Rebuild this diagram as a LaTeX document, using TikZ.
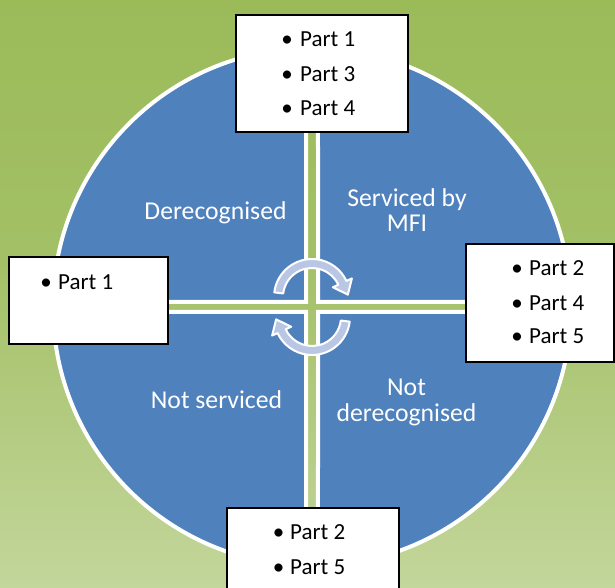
\documentclass[tikz,border=0pt]{standalone}
\usepackage{fontspec}
\setmainfont{Carlito}
\usetikzlibrary{calc}
\definecolor{gtop}{HTML}{9BBB59}
\definecolor{gmid}{HTML}{A3C066}
\definecolor{gbot}{HTML}{C3D69B}
\definecolor{qblue}{HTML}{4F81BD}
\definecolor{arrowblue}{HTML}{B9C7E4}
\begin{document}
\begin{tikzpicture}[x=1pt,y=1pt,
  quad/.style={fill=qblue, draw=white, line width=4pt},
  cyclearrow/.style={fill=arrowblue, draw=white, line width=2pt, line join=round},
  partbox/.style={draw=black, fill=white, line width=1.5pt, inner sep=0pt},
  quadlabel/.style={text=white, font=\fontsize{25.7pt}{26pt}\selectfont, inner sep=0pt, anchor=base},
  parttext/.style={font=\fontsize{23pt}{28pt}\selectfont, inner sep=0pt, anchor=base west},
  partbullet/.style={font=\fontsize{23pt}{28pt}\selectfont, inner sep=0pt, anchor=base},
]
\useasboundingbox (0,0) rectangle (615,588);
% background
\shade[top color=gmid, bottom color=gbot] (0,0) rectangle (615,330.5);
\shade[top color=gtop, bottom color=gmid] (0,330) rectangle (615,588);
% quadrants
\coordinate (C) at (312,281);
\path[quad] (318,286) -- ($(C)+(1.106:259)$) arc[start angle=1.106, end angle=88.673, radius=259] -- cycle;
\path[quad] (306,286) -- ($(C)+(91.327:259)$) arc[start angle=91.327, end angle=178.894, radius=259] -- cycle;
\path[quad] (306,276) -- ($(C)+(181.106:259)$) arc[start angle=181.106, end angle=268.673, radius=259] -- cycle;
\path[quad] (318,276) -- ($(C)+(271.327:259)$) arc[start angle=271.327, end angle=358.894, radius=259] -- cycle;
% cycle arrows
\coordinate (A) at (312,291);
\coordinate (B) at (312,271);
\path[cyclearrow] ($(A)+(173:38)$) arc[start angle=173, end angle=25, radius=38] -- ($(A)+(25:44)$) -- ($(A)+(25:33.5)+(-65:13)$) -- ($(A)+(25:23)$) -- ($(A)+(25:29)$) arc[start angle=25, end angle=173, radius=29] -- cycle;
\path[cyclearrow] ($(B)+(353:38)$) arc[start angle=353, end angle=205, radius=38] -- ($(B)+(205:44)$) -- ($(B)+(205:33.5)+(115:13)$) -- ($(B)+(205:23)$) -- ($(B)+(205:29)$) arc[start angle=205, end angle=353, radius=29] -- cycle;
% quadrant labels
\node[quadlabel] (lderec) at (215.5,368) {Derecognised};
\node[quadlabel] (lserv1) at (407,381) {Serviced by};
\node[quadlabel] (lserv2) at (407,356) {MFI};
\node[quadlabel] (lnots) at (216.5,179) {Not serviced};
\node[quadlabel] (lnotd1) at (406.5,192) {Not};
\node[quadlabel] (lnotd2) at (406.5,166) {derecognised};
% boxes
\node[partbox, minimum width=172pt, minimum height=117pt] (btop) at (322,514.5) {};
\node[partbox, minimum width=159pt, minimum height=87pt] (bleft) at (88.5,287.5) {};
\node[partbox, minimum width=148pt, minimum height=118pt] (bright) at (540,285) {};
\node[partbox, minimum width=172pt, minimum height=92pt] (bbottom) at (313,34) {};
% top box text
\node[partbullet] (tb1) at (287,541) {•};
\node[parttext] (tt1) at (300,541) {Part 1};
\node[partbullet] (tb2) at (287,506) {•};
\node[parttext] (tt2) at (300,506) {Part 3};
\node[partbullet] (tb3) at (287,472) {•};
\node[parttext] (tt3) at (300,472) {Part 4};
% left box text
\node[partbullet] (lb1) at (46,298) {•};
\node[parttext] (lt1) at (58,298) {Part 1};
% right box text
\node[partbullet] (rb1) at (517,312) {•};
\node[parttext] (rt1) at (529,312) {Part 2};
\node[partbullet] (rb2) at (517,277) {•};
\node[parttext] (rt2) at (529,277) {Part 4};
\node[partbullet] (rb3) at (517,244) {•};
\node[parttext] (rt3) at (529,244) {Part 5};
% bottom box text
\node[partbullet] (bb1) at (278.5,48) {•};
\node[parttext] (bt1) at (290,48) {Part 2};
\node[partbullet] (bb2) at (278.5,13) {•};
\node[parttext] (bt2) at (290,13) {Part 5};
\end{tikzpicture}
\end{document}
